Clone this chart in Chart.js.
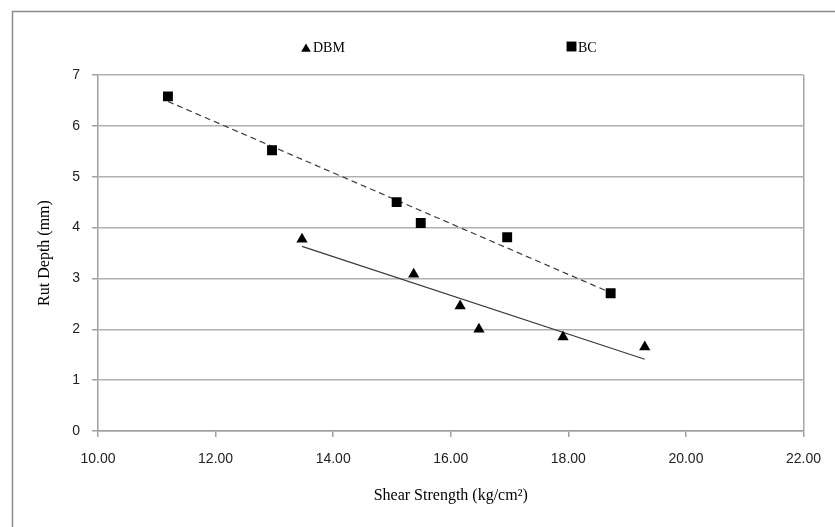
<!DOCTYPE html>
<html>
<head>
<meta charset="utf-8">
<script src="https://cdn.jsdelivr.net/npm/chart.js@4.4.1/dist/chart.umd.min.js"></script>
<style>
  html, body { margin: 0; padding: 0; background: #fff; }
  #wrap { width: 835px; height: 527px; }
</style>
</head>
<body>
<div id="wrap"><canvas id="rutChart" width="835" height="527"></canvas></div>
<script>
// values
const dbmShear = [13.47, 15.37, 16.16, 16.48, 17.91, 19.30];
const dbmRut   = [3.77, 3.08, 2.46, 2.00, 1.85, 1.65];
const bcShear  = [11.19, 12.96, 15.08, 15.49, 16.96, 18.72];
const bcRut    = [6.58, 5.52, 4.50, 4.09, 3.81, 2.71];

// linear trend lines, end points as drawn
const dbmTrendShear = [13.47, 19.30];
const dbmTrendRut   = [3.63, 1.41];
const bcTrendShear  = [11.19, 18.72];
const bcTrendRut    = [6.48, 2.72];

const xTicks = [10, 12, 14, 16, 18, 20, 22];
const yTicks = [0, 1, 2, 3, 4, 5, 6, 7];
const seriesNames = ['DBM', 'BC'];

function toPoints(xs, ys) {
  return xs.map((x, i) => ({ x: x, y: ys[i] }));
}

const serif = "'Liberation Serif', 'DejaVu Serif', serif";
const sans = "'Liberation Sans', 'Noto Sans', sans-serif";

// outer frame + legend drawn by hand (legend sits far apart in the original)
const framePlugin = {
  id: 'frame',
  beforeDraw(chart) {
    const c = chart.ctx;
    c.save();
    c.fillStyle = '#fff';
    c.fillRect(0, 0, chart.width, chart.height);
    c.strokeStyle = '#8a8a8a';
    c.lineWidth = 1.5;
    c.beginPath();
    c.moveTo(12.5, chart.height + 5);
    c.lineTo(12.5, 11.5);
    c.lineTo(chart.width + 5, 11.5);
    c.stroke();
    c.restore();
  },
  afterDraw(chart) {
    const c = chart.ctx;
    const items = [
      { name: seriesNames[0], style: 'triangle', r: 5.6, x: 306, y: 49, tx: 313 },
      { name: seriesNames[1], style: 'rect', r: 7, x: 571.5, y: 46.5, tx: 578 }
    ];
    c.save();
    items.forEach(it => {
      c.fillStyle = '#000';
      c.strokeStyle = '#000';
      Chart.helpers.drawPoint(c, { pointStyle: it.style, radius: it.r, rotation: 0, borderWidth: 0 }, it.x, it.y);
      c.font = '14px ' + serif;
      c.textBaseline = 'alphabetic';
      c.textAlign = 'left';
      c.fillText(it.name, it.tx, 52);
    });
    c.restore();
  }
};

const ctx = document.getElementById('rutChart').getContext('2d');
const rutChart = new Chart(ctx, {
  type: 'scatter',
  data: {
    datasets: [
      {
        label: seriesNames[0],
        data: toPoints(dbmShear, dbmRut),
        pointStyle: 'triangle',
        pointRadius: 6.5,
        pointBackgroundColor: '#000',
        pointBorderColor: '#000',
        pointBorderWidth: 0,
        order: 1
      },
      {
        label: seriesNames[1],
        data: toPoints(bcShear, bcRut),
        pointStyle: 'rect',
        pointRadius: 7,
        pointBackgroundColor: '#000',
        pointBorderColor: '#000',
        pointBorderWidth: 0,
        order: 1
      },
      {
        label: 'DBM trend',
        type: 'line',
        data: toPoints(dbmTrendShear, dbmTrendRut),
        borderColor: '#3a3a3a',
        borderWidth: 1.2,
        pointRadius: 0,
        fill: false,
        order: 2
      },
      {
        label: 'BC trend',
        type: 'line',
        data: toPoints(bcTrendShear, bcTrendRut),
        borderColor: '#3a3a3a',
        borderWidth: 1.2,
        borderDash: [6, 4],
        pointRadius: 0,
        fill: false,
        order: 2
      }
    ]
  },
  options: {
    responsive: false,
    animation: false,
    layout: { padding: { left: 0, top: 75, right: 31, bottom: 0 } },
    plugins: {
      legend: { display: false },
      tooltip: { enabled: false }
    },
    scales: {
      x: {
        type: 'linear',
        min: xTicks[0],
        max: xTicks[xTicks.length - 1],
        afterBuildTicks: (s) => { s.ticks = xTicks.map(v => ({ value: v })); },
        afterFit: (s) => { s.height = 96; },
        ticks: {
          padding: 14,
          color: '#222',
          font: { family: sans, size: 14 },
          callback: (v) => Number(v).toFixed(2)
        },
        grid: {
          drawOnChartArea: true,
          color: (c) => (c.tick && c.tick.value === xTicks[xTicks.length - 1]) ? '#a6a6a6' : 'rgba(0,0,0,0)',
          tickColor: '#a0a0a0',
          tickLength: 6,
          lineWidth: 1.5
        },
        border: { color: '#a0a0a0', width: 1.5 },
        title: {
          display: true,
          text: 'Shear Strength (kg/cm²)',
          color: '#000',
          font: { family: serif, size: 16 },
          padding: 22
        }
      },
      y: {
        type: 'linear',
        min: yTicks[0],
        max: yTicks[yTicks.length - 1],
        afterBuildTicks: (s) => { s.ticks = yTicks.map(v => ({ value: v })); },
        afterFit: (s) => { s.width = 98; },
        ticks: {
          padding: 12,
          color: '#222',
          font: { family: sans, size: 14 }
        },
        grid: {
          color: '#b0b0b0',
          tickColor: '#a0a0a0',
          tickLength: 6,
          lineWidth: 1.5
        },
        border: { color: '#a0a0a0', width: 1.5 },
        title: {
          display: true,
          text: 'Rut Depth (mm)',
          color: '#000',
          font: { family: serif, size: 16 },
          padding: 35
        }
      }
    }
  },
  plugins: [framePlugin]
});
</script>
</body>
</html>
